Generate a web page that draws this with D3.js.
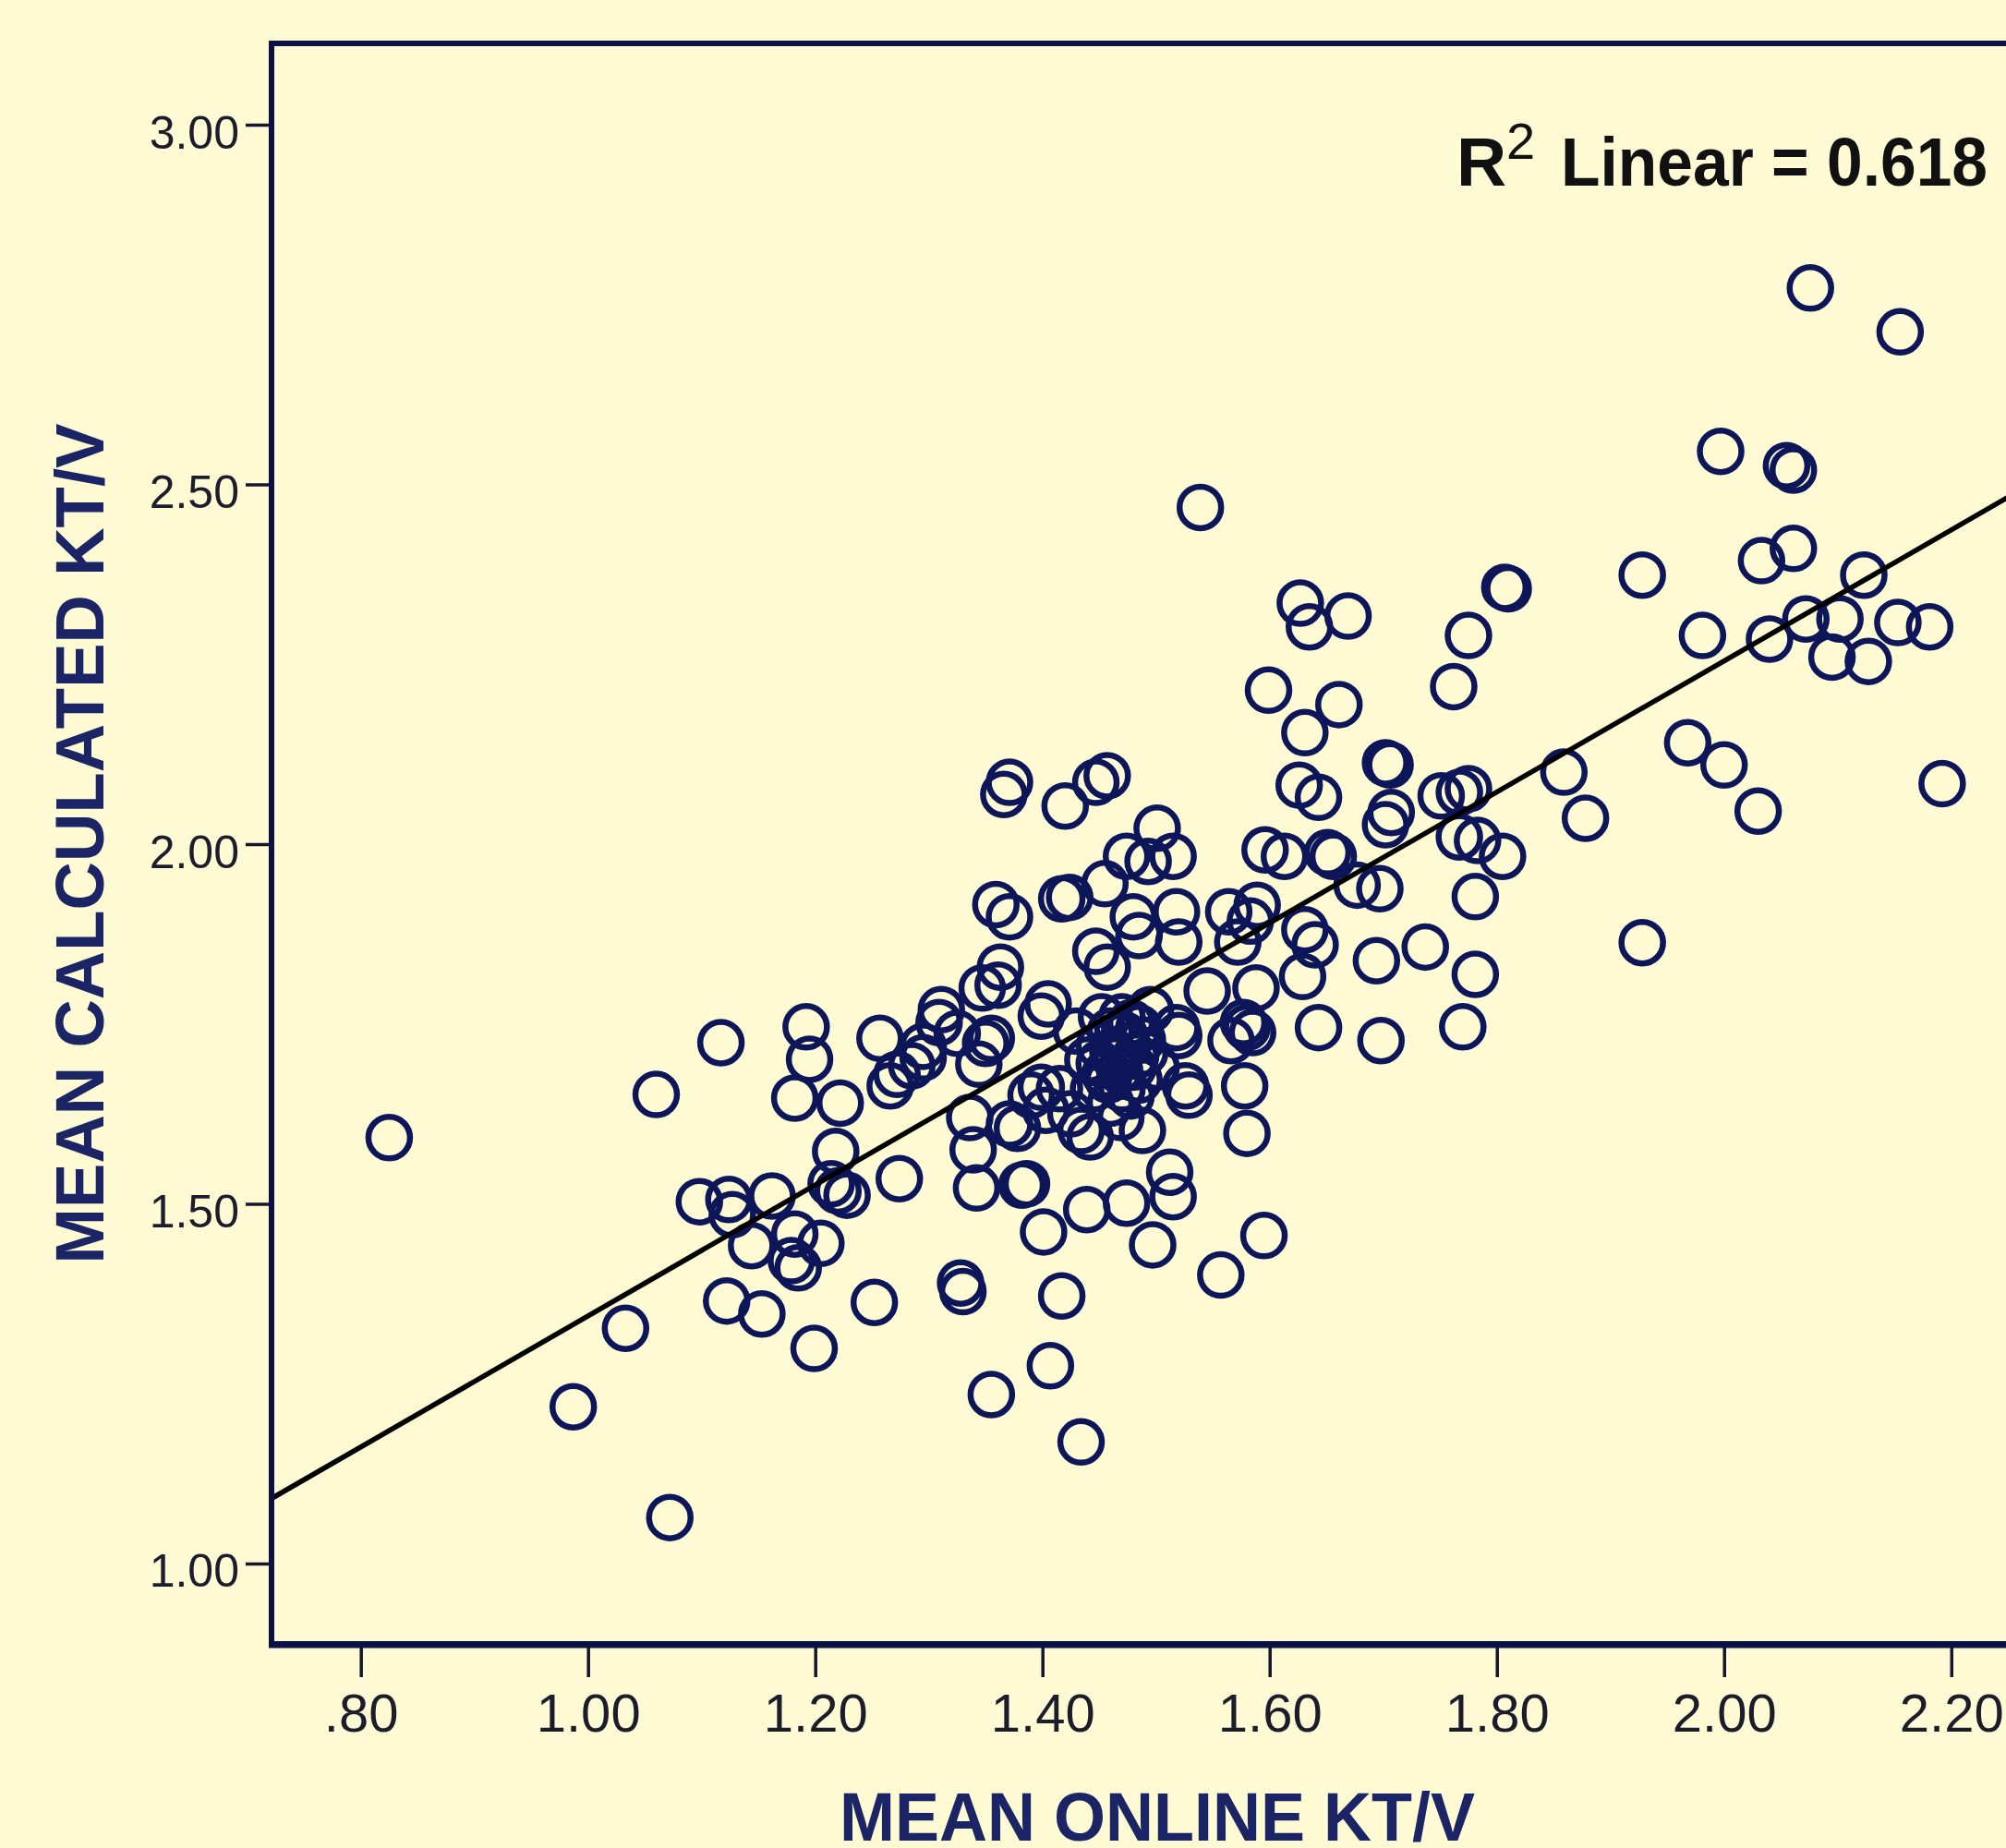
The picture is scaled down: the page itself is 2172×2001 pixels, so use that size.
<!DOCTYPE html>
<html lang="en">
<head>
    <meta charset="UTF-8">
    <title>Mean Online vs Calculated KT/V</title>
    <script src="https://d3js.org/d3.v7.min.js"></script>
    <style>
        body { margin: 0; background-color: #fefbd4; }
        svg { display: block; }
        text { font-family: "Liberation Sans", Arial, sans-serif; }
        .tick text { fill: #1c1c2c; }
        .tick line { stroke: #14162e; stroke-width: 3.5; }
        .domain { display: none; }
        .dot { fill: none; stroke: #0e165a; stroke-width: 6.5; }
        .fit { stroke: #000; stroke-width: 5.5; fill: none; }
        .frame { fill: none; stroke: #0b1045; stroke-width: 6; }
        .title { fill: #1b2464; font-weight: bold; font-size: 75px; }
    </style>
</head>
<body>
    <svg id="chart"></svg>

    <script>
        // values
        const onlineKtv = [
            0.825, 0.987, 1.033, 1.060, 1.072, 1.098, 1.117, 1.122, 1.124, 1.127,
            1.144, 1.153, 1.162, 1.179, 1.185, 1.182, 1.182, 1.192, 1.195, 1.199,
            1.205, 1.218, 1.214, 1.220, 1.228, 1.222, 1.252, 1.257, 1.266, 1.272,
            1.274, 1.285, 1.295, 1.295, 1.309, 1.311, 1.325, 1.328, 1.330, 1.336,
            1.339, 1.342, 1.344, 1.347, 1.350, 1.355, 1.355, 1.361, 1.363, 1.359,
            1.371, 1.366, 1.371, 1.371, 1.378, 1.382, 1.386, 1.390, 1.399, 1.405,
            1.401, 1.407, 1.417, 1.420, 1.417, 1.424, 1.434, 1.434, 1.442, 1.439,
            1.447, 1.457, 1.455, 1.447, 1.457, 1.474, 1.493, 1.515, 1.501, 1.480,
            1.485, 1.518, 1.520, 1.474, 1.469, 1.485, 1.488, 1.497, 1.512, 1.515,
            1.520, 1.518, 1.526, 1.529, 1.539, 1.545, 1.557, 1.564, 1.572, 1.583,
            1.589, 1.578, 1.580, 1.595, 1.566, 1.577, 1.580, 1.585, 1.588, 1.596,
            1.613, 1.599, 1.627, 1.635, 1.669, 1.631, 1.661, 1.626, 1.643, 1.651,
            1.656, 1.631, 1.640, 1.629, 1.643, 1.677, 1.697, 1.694, 1.698, 1.702,
            1.706, 1.707, 1.702, 1.737, 1.751, 1.767, 1.775, 1.762, 1.775, 1.767,
            1.783, 1.805, 1.781, 1.781, 1.770, 1.807, 1.810, 1.859, 1.878, 1.928,
            1.928, 1.968, 1.981, 1.997, 2.000, 2.030, 2.033, 2.040, 2.055, 2.061,
            2.061, 2.072, 2.076, 2.095, 2.102, 2.123, 2.127, 2.153, 2.155, 2.181,
            2.192, 1.440, 1.450, 1.455, 1.460, 1.465, 1.470, 1.470, 1.475, 1.480,
            1.485, 1.490, 1.495, 1.460, 1.445, 1.430, 1.500, 1.452, 1.478, 1.403,
            1.415, 1.425, 1.399, 1.462, 1.472, 1.482, 1.458, 1.468, 1.488, 1.478,
            1.450
        ];
        const calculatedKtv = [
            1.592, 1.218, 1.327, 1.652, 1.064, 1.503, 1.724, 1.365, 1.506, 1.485,
            1.442, 1.347, 1.511, 1.421, 1.411, 1.458, 1.647, 1.746, 1.701, 1.299,
            1.445, 1.573, 1.528, 1.518, 1.512, 1.640, 1.363, 1.730, 1.664, 1.680,
            1.535, 1.692, 1.703, 1.719, 1.752, 1.770, 1.737, 1.390, 1.378, 1.620,
            1.575, 1.522, 1.694, 1.800, 1.723, 1.730, 1.235, 1.804, 1.829, 1.916,
            1.899, 2.069, 2.086, 1.611, 1.605, 1.526, 1.528, 1.651, 1.761, 1.778,
            1.461, 1.275, 1.372, 2.053, 1.924, 1.926, 1.169, 1.602, 1.593, 1.492,
            2.086, 2.095, 1.945, 1.851, 1.829, 1.983, 1.976, 1.983, 2.022, 1.899,
            1.873, 1.906, 1.864, 1.501, 1.620, 1.672, 1.602, 1.443, 1.544, 1.510,
            1.734, 1.745, 1.664, 1.651, 2.468, 1.796, 1.401, 1.906, 1.864, 1.893,
            1.915, 1.664, 1.598, 1.456, 1.727, 1.752, 1.745, 1.738, 1.800, 1.992,
            1.983, 2.214, 2.335, 2.302, 2.317, 2.155, 2.194, 2.082, 2.065, 1.988,
            1.983, 1.881, 1.860, 1.816, 1.745, 1.943, 1.938, 1.838, 1.727, 2.113,
            2.110, 2.044, 2.027, 1.857, 2.067, 2.072, 2.077, 2.219, 2.290, 2.010,
            2.005, 1.983, 1.927, 1.819, 1.746, 2.357, 2.355, 2.100, 2.036, 2.374,
            1.863, 2.141, 2.290, 2.546, 2.110, 2.046, 2.394, 2.285, 2.526, 2.520,
            2.411, 2.313, 2.773, 2.260, 2.313, 2.374, 2.254, 2.308, 2.712, 2.302,
            2.084, 1.700, 1.720, 1.680, 1.740, 1.700, 1.660, 1.760, 1.720, 1.690,
            1.745, 1.710, 1.770, 1.640, 1.660, 1.740, 1.690, 1.760, 1.650, 1.630,
            1.660, 1.625, 1.662, 1.712, 1.735, 1.705, 1.672, 1.685, 1.728, 1.752,
            1.695
        ];

        const xTicks = [0.8, 1.0, 1.2, 1.4, 1.6, 1.8, 2.0, 2.2];
        const yTicks = [1.0, 1.5, 2.0, 2.5, 3.0];

        // fit line as printed by the chart
        const fitIntercept = 0.4336;
        const fitSlope = 0.9105;
        const rSquared = 0.618;

        const width = 2172, height = 2001;
        const plot = { left: 294, right: 2212, top: 47, bottom: 1780 };

        const svg = d3.select("#chart").attr("width", width).attr("height", height);

        svg.append("rect")
            .attr("width", width).attr("height", height)
            .attr("fill", "#fefbd4");

        const x = d3.scaleLinear().domain([0.7214, 2.2807]).range([plot.left, plot.right]);
        const y = d3.scaleLinear().domain([0.8883, 3.113]).range([plot.bottom, plot.top]);

        svg.append("clipPath").attr("id", "clip")
            .append("rect")
            .attr("x", plot.left).attr("y", plot.top)
            .attr("width", plot.right - plot.left).attr("height", plot.bottom - plot.top);

        // axes (ticks only, the frame is drawn separately)
        const xAxis = svg.append("g")
            .attr("transform", `translate(0,${plot.bottom})`)
            .call(d3.axisBottom(x)
                .tickValues(xTicks)
                .tickSize(36)
                .tickPadding(0)
                .tickFormat(d => d < 1 ? d3.format(".2f")(d).replace(/^0/, "") : d3.format(".2f")(d)));
        xAxis.selectAll(".tick text")
            .attr("y", 95)
            .attr("dy", null)
            .attr("font-size", "58px");

        const yAxis = svg.append("g")
            .attr("transform", `translate(${plot.left},0)`)
            .call(d3.axisLeft(y)
                .tickValues(yTicks)
                .tickSize(28)
                .tickPadding(7)
                .tickFormat(d3.format(".2f")));
        yAxis.selectAll(".tick text")
            .attr("dy", "25px")
            .attr("font-size", "50px");

        // points
        const points = onlineKtv.map((v, i) => ({ x: v, y: calculatedKtv[i] }));
        svg.append("g")
            .attr("clip-path", "url(#clip)")
            .selectAll("circle")
            .data(points)
            .enter().append("circle")
            .attr("class", "dot")
            .attr("cx", d => x(d.x))
            .attr("cy", d => y(d.y))
            .attr("r", 22.5);

        // linear fit
        const fitX = x.domain();
        svg.append("line")
            .attr("class", "fit")
            .attr("clip-path", "url(#clip)")
            .attr("x1", x(fitX[0])).attr("y1", y(fitIntercept + fitSlope * fitX[0]))
            .attr("x2", x(fitX[1])).attr("y2", y(fitIntercept + fitSlope * fitX[1]));

        // frame
        svg.append("rect")
            .attr("class", "frame")
            .attr("x", plot.left).attr("y", plot.top)
            .attr("width", plot.right - plot.left).attr("height", plot.bottom - plot.top);
        svg.append("line")
            .attr("x1", plot.left - 3).attr("x2", plot.right)
            .attr("y1", plot.bottom + 1).attr("y2", plot.bottom + 1)
            .attr("stroke", "#0b1045").attr("stroke-width", 7);

        // R squared label
        const rLabel = svg.append("g").attr("fill", "#111");
        rLabel.append("text")
            .attr("x", 1577).attr("y", 201)
            .attr("font-size", "75px").attr("font-weight", "bold")
            .text("R");
        rLabel.append("text")
            .attr("x", 1631).attr("y", 172)
            .attr("font-size", "56px")
            .text("2");
        rLabel.append("text")
            .attr("x", 1690).attr("y", 201)
            .attr("font-size", "75px").attr("font-weight", "bold")
            .attr("textLength", 462).attr("lengthAdjust", "spacingAndGlyphs")
            .text(`Linear = ${rSquared.toFixed(3)}`);

        // axis titles
        svg.append("text")
            .attr("class", "title")
            .attr("x", (plot.left + plot.right) / 2).attr("y", 1993)
            .attr("text-anchor", "middle")
            .attr("textLength", 688).attr("lengthAdjust", "spacingAndGlyphs")
            .text("MEAN ONLINE KT/V");

        svg.append("text")
            .attr("class", "title")
            .attr("transform", `translate(112,${(plot.top + plot.bottom) / 2}) rotate(-90)`)
            .attr("text-anchor", "middle")
            .attr("textLength", 910).attr("lengthAdjust", "spacingAndGlyphs")
            .text("MEAN CALCULATED KT/V");
    </script>
</body>
</html>
